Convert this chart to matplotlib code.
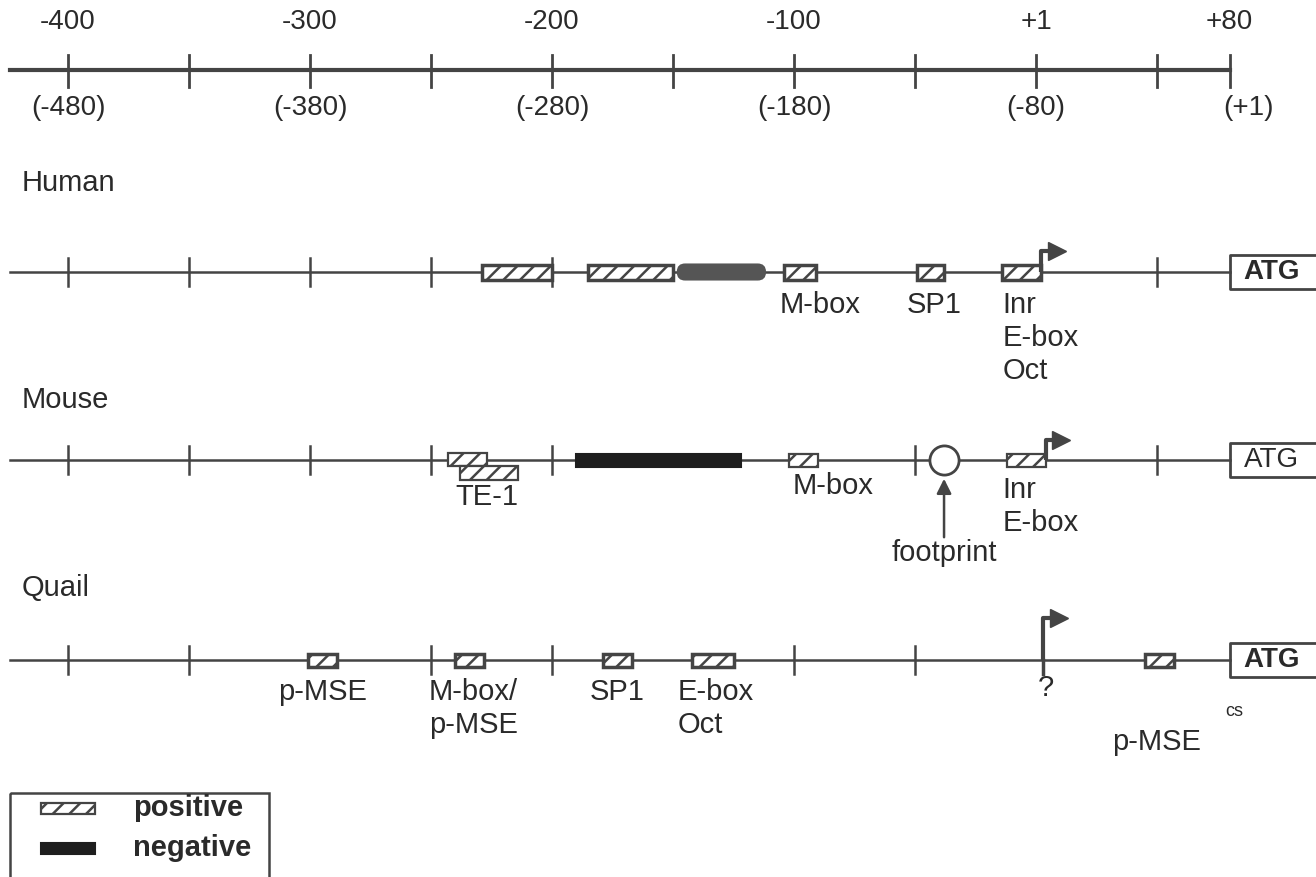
import matplotlib.pyplot as plt
from matplotlib.patches import Rectangle, FancyBboxPatch

plt.rcParams['font.family'] = ['Liberation Sans', 'DejaVu Sans']
plt.rcParams['hatch.linewidth'] = 1.8

INK = '#2a2a2a'
LINE = '#444444'

# scale on top (human numbering, bp) and bracketed quail numbering
scale_ticks = [-400, -350, -300, -250, -200, -150, -100, -50, 0, 50, 80]
scale_pos = [-400, -300, -200, -100, 0, 80]
scale_top = ['-400', '-300', '-200', '-100', '+1', '+80']
scale_bottom = ['(-480)', '(-380)', '(-280)', '(-180)', '(-80)', '(+1)']

# rows: name, line y (pixel units), ticks drawn on the line
species = ['Human', 'Mouse', 'Quail']
row_y = [272, 460, 660]
name_y = [183, 400, 588]
row_ticks = [
    [-400, -350, -300, -250, -200, 50],
    [-400, -350, -300, -250, -200, -50, 50],
    [-400, -350, -250, -200, -100, -50],
]

# elements: (start bp, end bp)
human_pos = [(-229, -200), (-185, -150), (-104, -91), (-49, -38), (-14, 2)]
human_neg = [(-148, -112)]
mouse_pos = [(-102, -90), (-12, 4)]
mouse_te1 = [(-243, -227), (-238, -214)]
mouse_neg = [(-190, -122)]
mouse_footprint = -38
quail_pos = [(-301, -289), (-240, -228), (-179, -167), (-142, -125), (45, 57)]
start_sites = [2, 4, 3]

# labels: (x bp, y px, text, ha)
human_labels = [(-89, 305, 'M-box', 'center'), (-42, 305, 'SP1', 'center'),
                (-14, 305, 'Inr', 'left'), (-14, 338, 'E-box', 'left'),
                (-14, 371, 'Oct', 'left')]
mouse_labels = [(-227, 497, 'TE-1', 'center'), (-84, 486, 'M-box', 'center'),
                (-14, 490, 'Inr', 'left'), (-14, 523, 'E-box', 'left'),
                (-38, 553, 'footprint', 'center')]
quail_labels = [(-295, 692, 'p-MSE', 'center'), (-251, 692, 'M-box/', 'left'),
                (-251, 725, 'p-MSE', 'left'), (-173, 692, 'SP1', 'center'),
                (-148, 692, 'E-box', 'left'), (-148, 725, 'Oct', 'left'),
                (4, 688, '?', 'center'), (50, 742, 'p-MSE', 'center')]

fig = plt.figure(figsize=(13.16, 8.77), dpi=100)
ax = fig.add_axes([0, 0, 1, 1])
ax.set_xlim(-428.1, 115.7)
ax.set_ylim(877, 0)
ax.axis('off')

FS = 21

def hbox(ax, x0, x1, y, h=14, lw=2.0):
    ax.add_patch(Rectangle((x0, y - h / 2), x1 - x0, h, facecolor='white',
                           edgecolor=LINE, hatch='//', lw=lw, zorder=3))

def nbox(ax, x0, x1, y, h=13, color='#2a2a2a', rounded=False):
    if rounded:
        ax.add_patch(FancyBboxPatch((x0, y - h / 2), x1 - x0, h,
                                    boxstyle='round,pad=0,rounding_size=3',
                                    facecolor=color, edgecolor=color, lw=1.5,
                                    zorder=3, mutation_aspect=2.4))
    else:
        ax.add_patch(Rectangle((x0, y - h / 2), x1 - x0, h, facecolor=color,
                               edgecolor=color, lw=1.5, zorder=3))

def atg(ax, y, weight):
    ax.plot([125, 80, 80, 125], [y - 17, y - 17, y + 17, y + 17], color=LINE, lw=2, zorder=3)
    ax.text(97.5, y, 'ATG', ha='center', va='center', fontsize=20, color=INK,
            fontweight=weight)

def start(ax, x, y, hgt):
    ax.plot([x, x, x + 5], [y, y - hgt, y - hgt], color=LINE, lw=3, zorder=4,
            solid_capstyle='butt')
    ax.plot(x + 6.5, y - hgt, marker='>', ms=13, color=LINE, mec=LINE, zorder=4)

# top scale
ax.plot([-424, 80], [70, 70], color=LINE, lw=3)
for t in scale_ticks:
    ax.plot([t, t], [55, 87], color=LINE, lw=2)
for p, a, b in zip(scale_pos, scale_top, scale_bottom):
    ax.text(p, 22, a, ha='center', va='center', fontsize=20, color=INK)
    ax.text(p + (8 if b == '(+1)' else 0), 108, b, ha='center', va='center',
            fontsize=20, color=INK)

# species rows
for name, y, ny, ticks in zip(species, row_y, name_y, row_ticks):
    ax.text(-419, ny, name, ha='left', va='center', fontsize=FS, color=INK)
    ax.plot([-424, 80], [y, y], color=LINE, lw=1.8, zorder=2)
    for t in ticks:
        ax.plot([t, t], [y - 14, y + 14], color=LINE, lw=1.8, zorder=2)

# Human
y = row_y[0]
for a, b in human_pos:
    hbox(ax, a, b, y, h=15, lw=2.5)
for a, b in human_neg:
    nbox(ax, a, b, y, h=15, color='#555555', rounded=True)
start(ax, start_sites[0], y, 21)
atg(ax, y, 'bold')
for x, ty, s, ha in human_labels:
    ax.text(x, ty, s, ha=ha, va='center', fontsize=FS, color=INK)

# Mouse
y = row_y[1]
for a, b in mouse_pos:
    hbox(ax, a, b, y, h=13, lw=1.6)
hbox(ax, mouse_te1[0][0], mouse_te1[0][1], y - 1, h=13, lw=1.6)
hbox(ax, mouse_te1[1][0], mouse_te1[1][1], y + 13, h=14, lw=1.6)
for a, b in mouse_neg:
    nbox(ax, a, b, y, h=13, color='#1e1e1e')
ax.plot(mouse_footprint, y, marker='o', ms=21, mfc='white', mec=LINE, mew=2, zorder=4)
ax.annotate('', xy=(mouse_footprint, y + 16), xytext=(mouse_footprint, 540),
            arrowprops=dict(arrowstyle='-|>', color=LINE, lw=1.8,
                            mutation_scale=22), zorder=4)
start(ax, start_sites[1], y, 20)
atg(ax, y, 'normal')
for x, ty, s, ha in mouse_labels:
    ax.text(x, ty, s, ha=ha, va='center', fontsize=FS, color=INK)

# Quail
y = row_y[2]
for a, b in quail_pos:
    hbox(ax, a, b, y, h=13, lw=2.5)
ax.plot([start_sites[2]] * 2, [y, y + 14], color=LINE, lw=2.5)
start(ax, start_sites[2], y, 42)
atg(ax, y, 'bold')
for x, ty, s, ha in quail_labels:
    ax.text(x, ty, s, ha=ha, va='center', fontsize=FS, color=INK)
ax.text(82, 712, 'cs', ha='center', va='center', fontsize=13, color=INK)

# legend
ax.add_patch(Rectangle((-424, 793), 107, 100, facecolor='none', edgecolor=LINE,
                       lw=1.8, clip_on=False))
hbox(ax, -411, -389, 808, h=11, lw=1.6)
nbox(ax, -411, -389, 848, h=11, color='#1e1e1e')
ax.text(-373, 808, 'positive', ha='left', va='center', fontsize=FS, color=INK,
        fontweight='bold')
ax.text(-373, 848, 'negative', ha='left', va='center', fontsize=FS, color=INK,
        fontweight='bold')

fig.savefig('out.png', dpi=100, facecolor='white')
